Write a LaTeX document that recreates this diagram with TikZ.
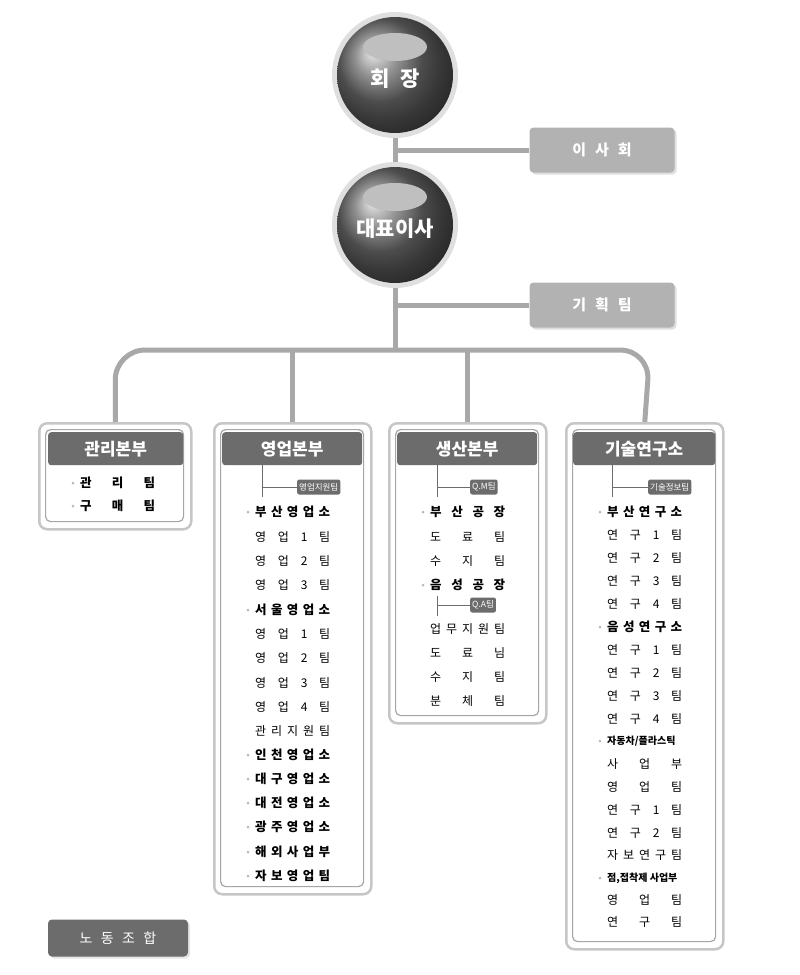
\documentclass[tikz,border=0pt]{standalone}
\usepackage{fontspec}
\newfontfamily\kr{Noto Sans CJK KR}
\usetikzlibrary{shadows}
\definecolor{lineg}{HTML}{A8A8A8}
\definecolor{darkg}{HTML}{6C6C6C}
\definecolor{boxg}{HTML}{B2B2B2}
\tikzset{
 conn/.style={draw=lineg,line width=5pt},
 thinl/.style={draw=darkg,line width=0.8pt},
 ceobox/.style={fill=boxg,rounded corners=4pt,text=white,font=\kr\bfseries\fontsize{15}{15}\selectfont,minimum width=145pt,minimum height=45pt,drop shadow={opacity=0.25,shadow xshift=2pt,shadow yshift=-2pt}},
 frame/.style={draw=gray!45,line width=2.5pt,rounded corners=8pt,fill=white,anchor=north west},
 inner/.style={draw=gray!70,line width=1.2pt,rounded corners=5pt,anchor=north west},
 hdr/.style={fill=darkg,rounded corners=3pt,text=white,font=\kr\bfseries\fontsize{17}{17}\selectfont,anchor=north west,minimum height=33pt},
 sub/.style={fill=darkg,rounded corners=2pt,text=white,font=\kr\fontsize{8.5}{9}\selectfont,inner sep=2pt,minimum height=15pt,anchor=west},
 it/.style={anchor=west,font=\kr\fontsize{12}{12}\selectfont,inner sep=0pt},
 bit/.style={anchor=west,font=\kr\bfseries\fontsize{12.5}{12}\selectfont,inner sep=0pt},
 sbit/.style={anchor=west,font=\kr\bfseries\fontsize{10}{10}\selectfont,inner sep=0pt},
}
\newcommand{\Itm}[3]{\node[it] at (#1,#2) {\makebox[75pt][s]{#3}};}
\newcommand{\Bitm}[3]{\fill[gray!55] (#1-7,#2) circle (1.5pt);\node[bit] at (#1,#2) {\makebox[75pt][s]{#3}};}
\newcommand{\Sbitm}[3]{\fill[gray!55] (#1-7,#2) circle (1.5pt);\node[sbit] at (#1,#2) {#3};}
\begin{document}
\begin{tikzpicture}[x=1pt,y=-1pt]
\useasboundingbox (0,0) rectangle (800,975);
% vertical trunk and connections
\coordinate (hub) at (395,350);
\coordinate (hubR) at (650,350);
\node[ceobox] (isa) at (602,150) {이\hspace{0.6em}사\hspace{0.6em}회};
\node[ceobox] (plan) at (602,305) {기\hspace{0.6em}획\hspace{0.6em}팀};
% frames
\node[frame,minimum width=152pt,minimum height=106pt] (b1) at (38,422) {};
\node[frame,minimum width=157pt,minimum height=471pt] (b2) at (213,422) {};
\node[frame,minimum width=157pt,minimum height=300pt] (b3) at (388,422) {};
\node[frame,minimum width=157pt,minimum height=526pt] (b4) at (565,422) {};
\draw[conn] (395,130) -- (hub);
\draw[conn] (395,150) -- (isa.west);
\draw[conn] (395,305) -- (plan.west);
\draw[conn,rounded corners=30pt] (b1.north) |- (hubR) -- (b4.north);
\draw[conn] (b2.north) -- (b2.north |- hub);
\draw[conn] (b3.north) -- (b3.north |- hub);
\node[inner,minimum width=138pt,minimum height=92pt] at (45,429) {};
\node[inner,minimum width=143pt,minimum height=457pt] at (220,429) {};
\node[inner,minimum width=143pt,minimum height=286pt] at (395,429) {};
\node[inner,minimum width=143pt,minimum height=512pt] at (572,429) {};
% circles
\foreach \n/\cy/\t in {chair/75/{회\hspace{0.5em}장},ceo/225/{대표이사}}{
 \fill[gray!25] (395,\cy) circle (63pt);
 \shade[ball color=gray!85!black] (395,\cy) circle (58pt);
 \fill[gray!50] (395,\cy-28) ellipse (32pt and 14pt);
 \node[text=white,font=\kr\bfseries\fontsize{21}{21}\selectfont] (\n) at (395,\cy+4) {\t};
}
% headers
\node[hdr,minimum width=135pt] (h1) at (48,432) {관리본부};
\node[hdr,minimum width=140pt] (h2) at (222,432) {영업본부};
\node[hdr,minimum width=140pt] (h3) at (397,432) {생산본부};
\node[hdr,minimum width=142pt] (h4) at (573,432) {기술연구소};
% 관리본부
\fill[gray!55] (73,483) circle (1.5pt);\node[bit] at (80,483) {\makebox[75pt][s]{관\hfil 리\hfil 팀}};
\fill[gray!55] (73,506) circle (1.5pt);\node[bit] at (80,506) {\makebox[75pt][s]{구\hfil 매\hfil 팀}};
% 영업본부
\node[sub] (s2) at (297,487) {영업지원팀};
\draw[thinl] (262,465) -- (262,497);
\draw[thinl] (262,487) -- (s2.west);
\Bitm{255}{512}{부\hfil 산\hfil 영\hfil 업\hfil 소}
\Itm{255}{537}{영\hfil 업\hfil 1\hfil 팀}
\Itm{255}{561}{영\hfil 업\hfil 2\hfil 팀}
\Itm{255}{585}{영\hfil 업\hfil 3\hfil 팀}
\Bitm{255}{610}{서\hfil 울\hfil 영\hfil 업\hfil 소}
\Itm{255}{634}{영\hfil 업\hfil 1\hfil 팀}
\Itm{255}{658}{영\hfil 업\hfil 2\hfil 팀}
\Itm{255}{683}{영\hfil 업\hfil 3\hfil 팀}
\Itm{255}{707}{영\hfil 업\hfil 4\hfil 팀}
\Itm{255}{731}{관\hfil 리\hfil 지\hfil 원\hfil 팀}
\Bitm{255}{755}{인\hfil 천\hfil 영\hfil 업\hfil 소}
\Bitm{255}{779}{대\hfil 구\hfil 영\hfil 업\hfil 소}
\Bitm{255}{803}{대\hfil 전\hfil 영\hfil 업\hfil 소}
\Bitm{255}{827}{광\hfil 주\hfil 영\hfil 업\hfil 소}
\Bitm{255}{852}{해\hfil 외\hfil 사\hfil 업\hfil 부}
\Bitm{255}{876}{자\hfil 보\hfil 영\hfil 업\hfil 팀}
% 생산본부
\node[sub] (s3) at (470,487) {Q.M팀};
\draw[thinl] (437,465) -- (437,497);
\draw[thinl] (437,487) -- (s3.west);
\Bitm{430}{512}{부\hfil 산\hfil 공\hfil 장}
\Itm{430}{537}{도\hfil 료\hfil 팀}
\Itm{430}{561}{수\hfil 지\hfil 팀}
\Bitm{430}{585}{음\hfil 성\hfil 공\hfil 장}
\node[sub] (s3b) at (470,605) {Q.A팀};
\draw[thinl] (437,596) -- (437,616);
\draw[thinl] (437,605) -- (s3b.west);
\Itm{430}{629}{업\hfil 무\hfil 지\hfil 원\hfil 팀}
\Itm{430}{653}{도\hfil 료\hfil 님}
\Itm{430}{677}{수\hfil 지\hfil 팀}
\Itm{430}{701}{분\hfil 체\hfil 팀}
% 기술연구소
\node[sub] (s4) at (648,487) {기술정보팀};
\draw[thinl] (612,465) -- (612,497);
\draw[thinl] (612,487) -- (s4.west);
\Bitm{607}{512}{부\hfil 산\hfil 연\hfil 구\hfil 소}
\Itm{607}{535}{연\hfil 구\hfil 1\hfil 팀}
\Itm{607}{558}{연\hfil 구\hfil 2\hfil 팀}
\Itm{607}{581}{연\hfil 구\hfil 3\hfil 팀}
\Itm{607}{604}{연\hfil 구\hfil 4\hfil 팀}
\Bitm{607}{627}{음\hfil 성\hfil 연\hfil 구\hfil 소}
\Itm{607}{650}{연\hfil 구\hfil 1\hfil 팀}
\Itm{607}{673}{연\hfil 구\hfil 2\hfil 팀}
\Itm{607}{696}{연\hfil 구\hfil 3\hfil 팀}
\Itm{607}{719}{연\hfil 구\hfil 4\hfil 팀}
\Sbitm{607}{741}{자동차/플라스틱}
\Itm{607}{764}{사\hfil 업\hfil 부}
\Itm{607}{787}{영\hfil 업\hfil 팀}
\Itm{607}{810}{연\hfil 구\hfil 1\hfil 팀}
\Itm{607}{833}{연\hfil 구\hfil 2\hfil 팀}
\Itm{607}{855}{자\hfil 보\hfil 연\hfil 구\hfil 팀}
\Sbitm{607}{878}{점,접착제 사업부}
\Itm{607}{900}{영\hfil 업\hfil 팀}
\Itm{607}{922}{연\hfil 구\hfil 팀}
% 노동조합
\node[fill=darkg,rounded corners=4pt,text=white,font=\kr\fontsize{14}{14}\selectfont,minimum width=140pt,minimum height=37pt,drop shadow={opacity=0.2,shadow xshift=2pt,shadow yshift=-2pt}] (union) at (118,938) {노\hspace{0.6em}동\hspace{0.6em}조\hspace{0.6em}합};
\end{tikzpicture}
\end{document}
